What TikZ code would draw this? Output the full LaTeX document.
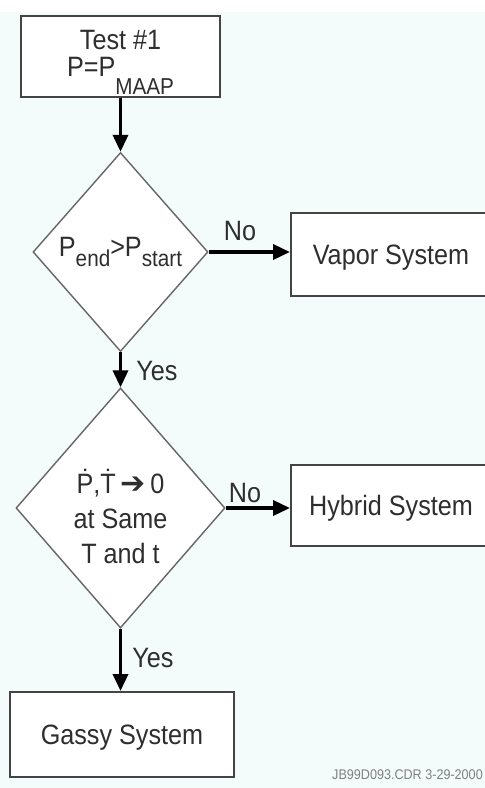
\documentclass[tikz,border=0pt]{standalone}
\usepackage{fontspec}
\setmainfont{Liberation Sans}[FakeStretch=0.9]
\newfontfamily\arrowfont{DejaVu Sans}
\usetikzlibrary{shapes.geometric,arrows.meta}
\definecolor{txt}{HTML}{2E2E2E}
\definecolor{boxgray}{HTML}{444444}
\definecolor{diagray}{HTML}{666666}
\definecolor{panel}{HTML}{F4FBFB}
\newcommand{\subtxt}[2]{\raisebox{-#1}{\fontsize{23}{23}\selectfont #2}}
\begin{document}
\begin{tikzpicture}[x=1pt,y=-1pt,
  every node/.style={text=txt, font=\fontsize{28}{36}\selectfont},
  boxnode/.style={draw=boxgray, line width=2pt, fill=white, inner sep=0pt, align=center},
  dianode/.style={diamond, draw=diagray, line width=1.4pt, fill=white, inner sep=0pt, align=center},
  flow/.style={draw=black, line width=3.5pt, -{Triangle[length=17pt,width=15pt]}},
  lbl/.style={anchor=base, inner sep=0pt}
]
\useasboundingbox (0,0) rectangle (485,788);
\fill[white] (0,0) rectangle (485,788);
\fill[panel] (0,12) rectangle (485,788);

\node[boxnode, minimum width=199pt, minimum height=81pt, text depth=6pt] (test) at (120.5,56.5)
  {Test \#1\\[-9pt]P=P\raisebox{-18pt}[0pt][0pt]{\fontsize{23}{23}\selectfont MAAP}};

\node[dianode, minimum width=175pt, minimum height=199pt] (d1) at (120.5,252)
  {P\subtxt{10pt}{end}>P\subtxt{10pt}{start}};

\node[boxnode, minimum width=200pt, minimum height=83pt, text depth=0pt] (vapor) at (391,254.5) {Vapor System};

\node[dianode, minimum width=209pt, minimum height=240pt, text depth=0pt] (d2) at (120.5,508)
  {\rule{0pt}{40pt}\.{P},\.{T}\,{\arrowfont\fontsize{30}{36}\selectfont ➔}\,0\\[-1pt]at Same\\[-1pt]T and t};

\node[boxnode, minimum width=200pt, minimum height=81pt, text depth=0pt] (hybrid) at (391,505.5) {Hybrid System};

\node[boxnode, minimum width=224pt, minimum height=85pt, text depth=0pt] (gassy) at (122,734.5) {Gassy System};

\draw[flow] (test.south) -- (d1.north);
\draw[flow] (d1.east) -- (d1.east -| vapor.west);
\draw[flow] (d1.south) -- (d2.north);
\draw[flow] (d2.east) -- (d2.east -| hybrid.west);
\draw[flow] (d2.south) -- (d2.south |- gassy.north);

\node[lbl] (no1) at (240,240) {No};
\node[lbl] (yes1) at (157,380) {Yes};
\node[lbl] (no2) at (245,502) {No};
\node[lbl] (yes2) at (153,667) {Yes};

\node[lbl, anchor=base east, font=\fontsize{14}{14}\selectfont, text=gray] (ref) at (483,779) {JB99D093.CDR 3-29-2000};
\end{tikzpicture}
\end{document}
